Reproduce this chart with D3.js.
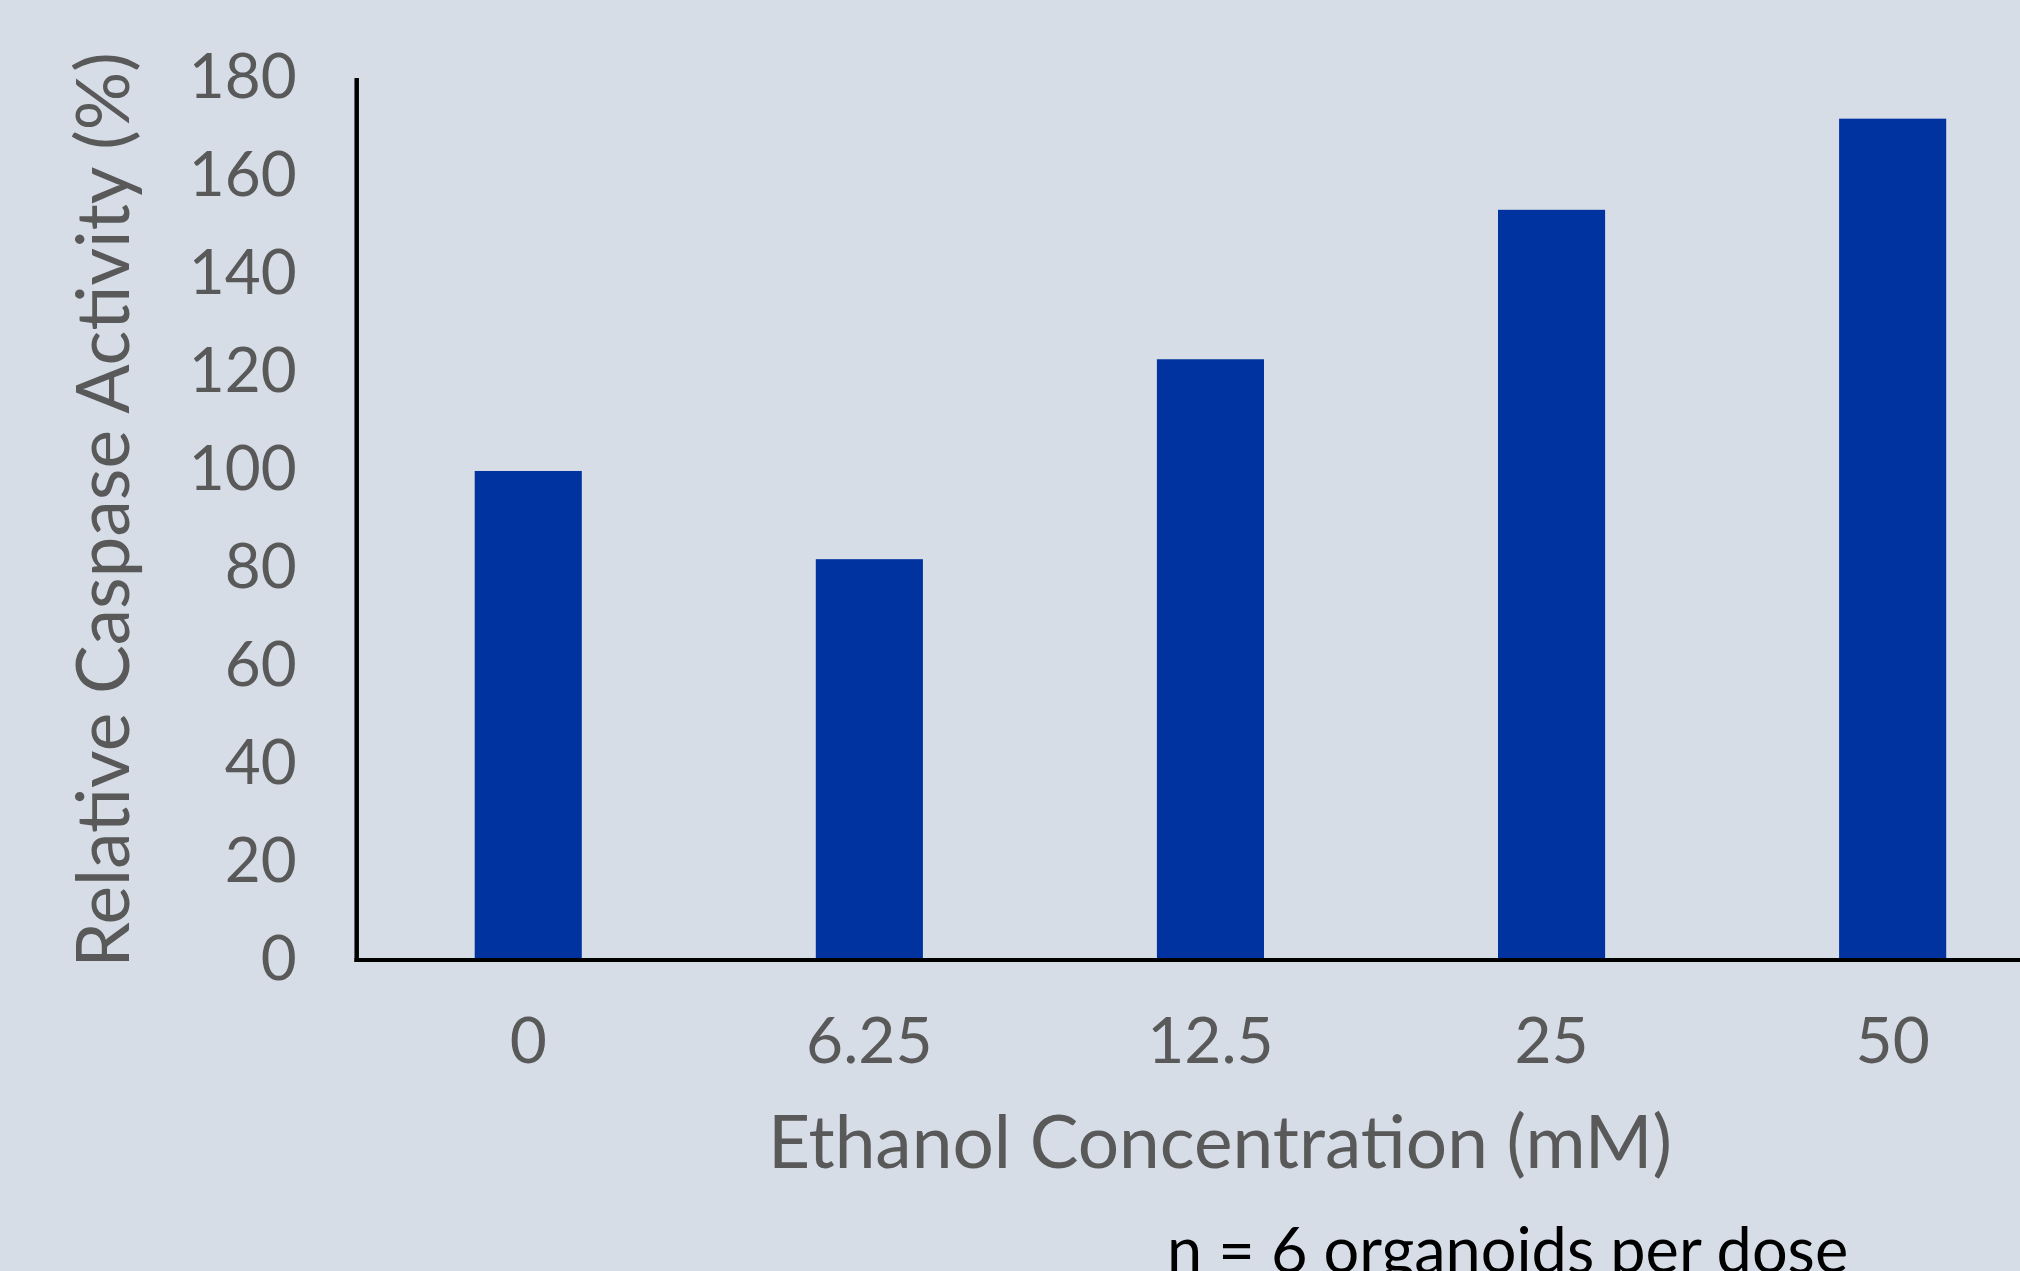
<!DOCTYPE html>
<html>
<head>
<meta charset="utf-8">
<script src="https://cdn.jsdelivr.net/npm/d3@7"></script>
<style>
  html, body { margin: 0; padding: 0; background: #d6dde7; }
  svg { display: block; }
  text { font-family: Lato, "Open Sans", sans-serif; }
</style>
</head>
<body>
<div id="chart"></div>
<script>
// Data
const doses = ["0", "6.25", "12.5", "25", "50"];
const caspase = [99.8, 81.8, 122.6, 153.1, 171.7];
const yTicks = [0, 20, 40, 60, 80, 100, 120, 140, 160, 180];

const W = 2020, H = 1271;
const plot = { left: 357.7, right: 2063.2, top: 78, bottom: 960 };

const svg = d3.select("#chart")
  .append("svg")
  .attr("width", W)
  .attr("height", H);

// Scales
const x = d3.scaleBand()
  .domain(doses)
  .range([plot.left, plot.right])
  .paddingInner(0.686)
  .paddingOuter(0.343);

const y = d3.scaleLinear()
  .domain([0, 180])
  .range([plot.bottom, plot.top]);

// Bars
svg.selectAll(".bar")
  .data(doses.map((d, i) => ({ dose: d, value: caspase[i] })))
  .enter()
  .append("rect")
  .attr("class", "bar")
  .attr("x", d => x(d.dose))
  .attr("y", d => y(d.value))
  .attr("width", x.bandwidth())
  .attr("height", d => y(0) - y(d.value))
  .attr("fill", "#0033a0");

// Y axis (line only, labels on the left)
const yAxis = svg.append("g")
  .attr("transform", `translate(356.7,0)`)
  .call(d3.axisLeft(y).tickValues(yTicks).tickSize(0).tickPadding(60));
yAxis.select(".domain").attr("stroke", "#000").attr("stroke-width", 4.5)
  .attr("d", `M0,${y(0) + 2}V${plot.top}`);
yAxis.selectAll("text")
  .attr("fill", "#595959")
  .style("font-size", "62px")
  .style("font-family", "Lato, sans-serif");

// X axis
const xAxis = svg.append("g")
  .attr("transform", `translate(0,${y(0)})`)
  .call(d3.axisBottom(x).tickSize(0).tickPadding(0));
xAxis.select(".domain").attr("stroke", "#000").attr("stroke-width", 4)
  .attr("d", `M354.5,0H${W}`);
xAxis.selectAll("text")
  .attr("dy", null)
  .attr("y", 103)
  .attr("fill", "#595959")
  .style("font-size", "64px")
  .style("font-family", "Lato, sans-serif");

// Axis titles
svg.append("text")
  .attr("transform", `translate(129,510) rotate(-90)`)
  .attr("text-anchor", "middle")
  .attr("fill", "#595959")
  .style("font-size", "73px")
  .text("Relative Caspase Activity (%)");

svg.append("text")
  .attr("x", 1220)
  .attr("y", 1168)
  .attr("text-anchor", "middle")
  .attr("fill", "#595959")
  .style("font-size", "73px")
  .text("Ethanol Concentration (mM)");

// Footnote
svg.append("text")
  .attr("x", 1167)
  .attr("y", 1273)
  .attr("fill", "#000")
  .style("font-size", "63px")
  .text("n = 6 organoids per dose");
</script>
</body>
</html>
